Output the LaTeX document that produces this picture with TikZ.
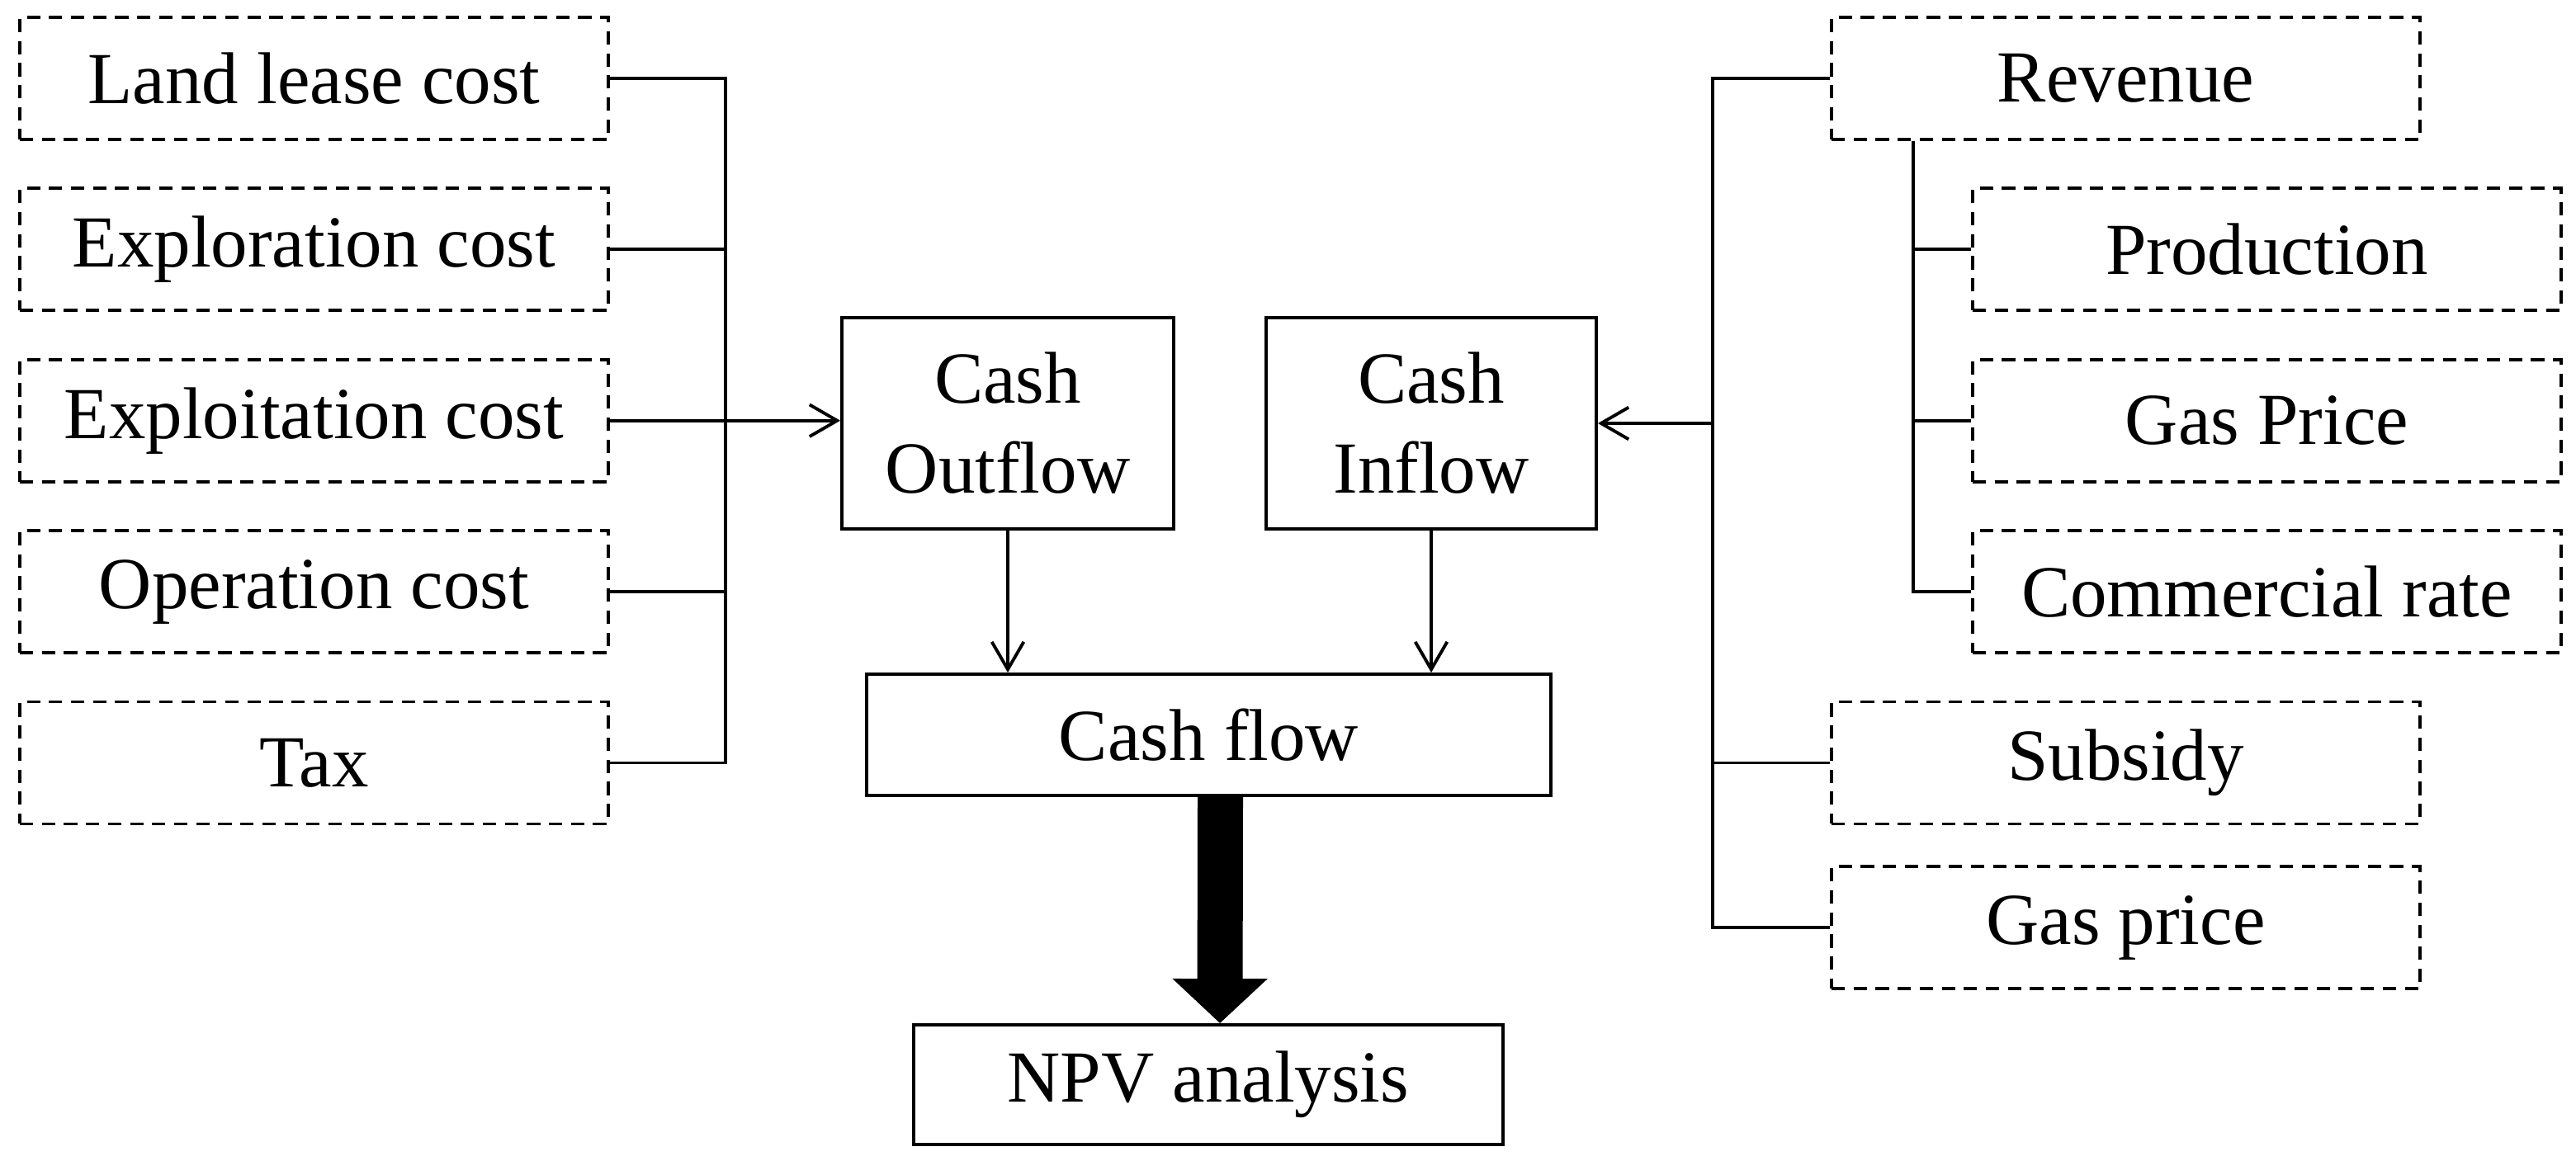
\documentclass[tikz,border=0pt]{standalone}
\usepackage{fontspec}
\setmainfont{Liberation Serif}
\usetikzlibrary{arrows.meta,positioning}

\tikzset{
  factor/.style={draw, dash pattern=on 4.6pt off 3pt, minimum width=7.13cm, minimum height=1.48cm, inner sep=0pt},
  flowbox/.style={draw, inner sep=0pt, align=center},
}

\begin{document}
\begin{tikzpicture}[font=\fontsize{25.3}{31}\selectfont, line width=1.1pt,
    >={Straight Barb[length=9.5pt,width=11pt]}, node distance=0.555cm]
	\useasboundingbox (0,0) rectangle (31.21,-14.06);
	% costs
	\node[factor] (land) at (3.805,-0.95) {Land lease cost};
	\node[factor, below=of land] (explor) {Exploration cost};
	\node[factor, below=of explor] (exploit) {Exploitation cost};
	\node[factor, below=of exploit] (oper) {Operation cost};
	\node[factor, below=of oper] (tax) {Tax};
	% incomes
	\node[factor] (revenue) at (25.755,-0.95) {Revenue};
	\node[factor, below=of revenue, xshift=1.71cm] (prod) {Production};
	\node[factor, below=of prod] (gasP) {Gas Price};
	\node[factor, below=of gasP] (comm) {Commercial rate};
	\node[factor, below=of comm, xshift=-1.71cm] (subsidy) {Subsidy};
	\node[factor, below=0.48cm of subsidy] (gasp) {Gas price};
	% cash
	\node[flowbox, minimum width=4.02cm, minimum height=2.56cm] (outflow) at (12.21,-5.13) {Cash\\Outflow};
	\node[flowbox, minimum width=4cm, minimum height=2.56cm] (inflow) at (17.34,-5.13) {Cash\\Inflow};
	\node[flowbox, minimum width=8.29cm, minimum height=1.47cm] (flow) at (14.645,-8.905) {Cash flow};
	\node[flowbox, minimum width=7.14cm, minimum height=1.45cm] (npv) at (14.64,-13.145) {NPV analysis};
	\coordinate (lbus) at (8.79,0);
	\coordinate (rbus) at (20.75,0);
	\coordinate (sbus) at (23.18,0);
	% left bus
	\draw (land.east) -- (land.east -| lbus) -- (tax.east -| lbus) -- (tax.east);
	\foreach \n in {explor,oper}
	  \draw (\n.east) -- (\n.east -| lbus);
	\draw[->] (exploit.east) -- (exploit.east -| outflow.west);
	% right bus
	\draw (revenue.west) -- (revenue.west -| rbus) -- (gasp.west -| rbus) -- (gasp.west);
	\draw (subsidy.west) -- (subsidy.west -| rbus);
	\draw[->] (inflow.east -| rbus) -- (inflow.east);
	\draw (revenue.south -| sbus) -- (comm.west -| sbus) -- (comm.west);
	\foreach \n in {prod,gasP}
	  \draw (\n.west -| sbus) -- (\n.west);
	% to cash flow and npv
	\draw[->] (outflow.south) -- (outflow.south |- flow.north);
	\draw[->] (inflow.south) -- (inflow.south |- flow.north);
	\draw[line width=0.55cm, -{Triangle[length=0.54cm,width=1.12cm]}] ([xshift=0.14cm]flow.south) -- ([xshift=0.14cm]npv.north);
\end{tikzpicture}
\end{document}
